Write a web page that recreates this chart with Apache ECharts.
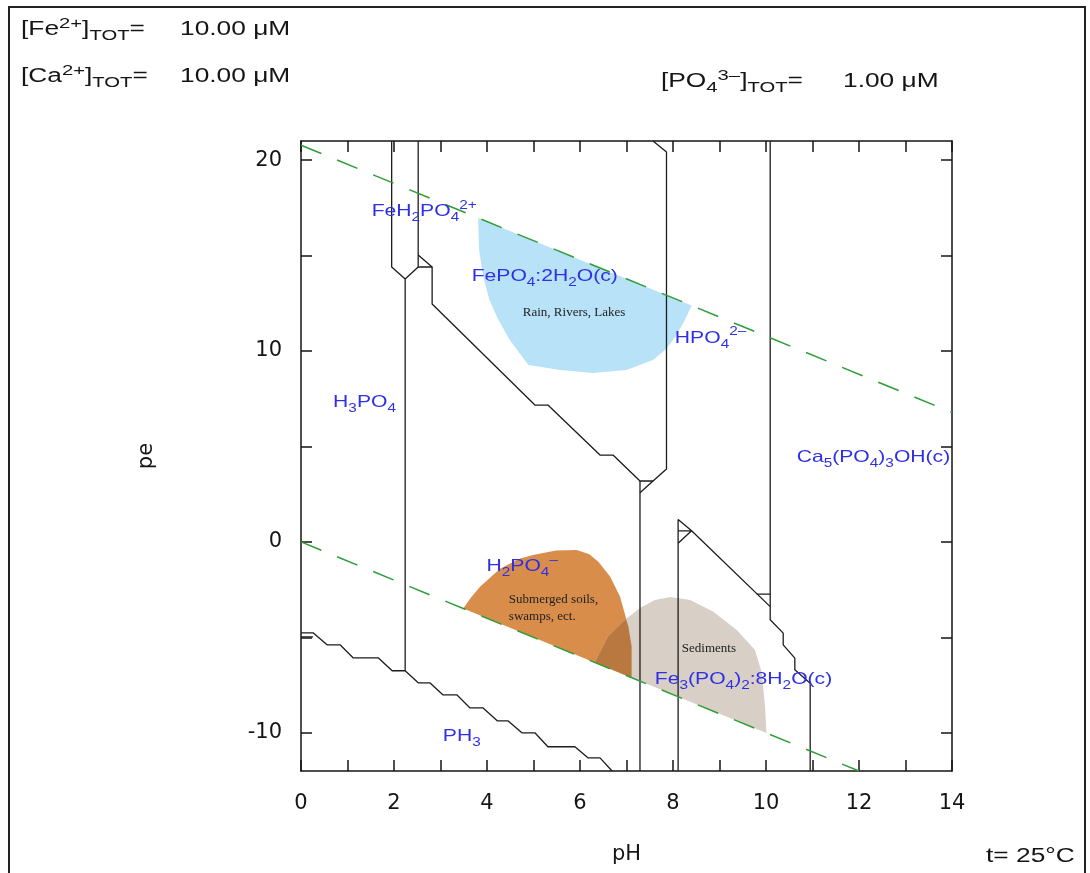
<!DOCTYPE html>
<html>
<head>
<meta charset="utf-8">
<script src="https://cdn.jsdelivr.net/npm/echarts@6/dist/echarts.min.js"></script>
<style>
  html, body { margin: 0; padding: 0; background: #fff; }
  #main { width: 1090px; height: 873px; }
</style>
</head>
<body>
<div id="main"></div>
<script>
// axis ticks / labels
const phTicks = [0, 1, 2, 3, 4, 5, 6, 7, 8, 9, 10, 11, 12, 13, 14];
const phLabels = [0, 2, 4, 6, 8, 10, 12, 14];
const peTicks = [-10, -5, 0, 5, 10, 15, 20];
const peLabels = [-10, 0, 10, 20];

// water stability limits
const waterUpper = [[0, 20.78], [14, 6.78]];
const waterLower = [[0, 0], [12, -12]];

// predominance boundaries (pH, pe)
const pH2Left = [[1.95, 21], [1.95, 14.40], [2.24, 13.77], [2.24, -6.75]];
const pH2Right = [[2.52, 21], [2.52, 14.40], [2.24, 13.77]];
const pH2Notch = [[2.52, 14.40], [2.82, 14.40]];
const fePhosphateEdge = [[2.52, 15.03], [2.82, 14.40], [2.82, 12.46], [5.03, 7.17], [5.31, 7.17],
  [6.43, 4.55], [6.71, 4.55], [7.29, 3.19], [7.57, 3.19], [7.86, 3.82], [7.86, 20.42], [7.57, 21]];
const pH7Line = [[7.29, 3.19], [7.29, -12]];
const pH7Notch = [[7.57, 3.19], [7.29, 2.57]];
const fe3Edge = [[8.11, -12], [8.11, 1.17], [8.40, 0.58], [10.09, -3.39]];
const fe3Notch = [[8.11, 0.58], [8.40, 0.58], [8.11, -0.07]];
const apatiteEdge = [[10.09, 21], [10.09, -4.08], [10.37, -4.78], [10.37, -5.39], [10.62, -6.09],
  [10.62, -6.70], [10.95, -7.40], [10.95, -12]];
const apatiteNotch = [[9.80, -2.74], [10.09, -2.74]];
const phosphineEdge = [[0, -4.76], [0.26, -4.76], [0.56, -5.39], [0.84, -5.39], [1.12, -6.07],
  [1.66, -6.07], [1.96, -6.75], [2.24, -6.75], [2.52, -7.38], [2.77, -7.38], [3.05, -8.01],
  [3.35, -8.01], [3.63, -8.69], [3.91, -8.69], [4.22, -9.37], [4.45, -9.37], [4.75, -10.0],
  [5.03, -10.0], [5.31, -10.73], [5.89, -10.73], [6.17, -11.31], [6.43, -11.31], [6.69, -12]];
const phosphineTick = [[0, -4.97], [0.26, -4.97]];

// shaded environments
const rainRegion = [[3.81, 16.97], [3.83, 15.29], [3.92, 13.9], [4.05, 12.7], [4.23, 11.70],
  [4.49, 10.58], [4.89, 9.27], [5.57, 9.01], [6.28, 8.85], [7.00, 9.01], [7.57, 9.53],
  [7.85, 10.1], [8.05, 10.75], [8.24, 11.55], [8.40, 12.38]];
const soilRegion = [[3.49, -3.49], [3.66, -2.90], [3.85, -2.35], [4.28, -1.40], [4.70, -0.88],
  [4.99, -0.68], [5.48, -0.45], [5.93, -0.42], [6.20, -0.65], [6.40, -1.05], [6.65, -1.82],
  [6.86, -2.86], [7.04, -4.43], [7.11, -5.48], [7.11, -7.11]];
const sedimentRegion = [[6.32, -6.32], [6.60, -4.96], [6.97, -4.08], [7.29, -3.46], [7.61, -3.04],
  [7.94, -2.88], [8.37, -3.04], [8.86, -3.65], [9.37, -4.61], [9.76, -5.65], [9.91, -6.86],
  [9.98, -8.62], [10.01, -10.01]];
const overlapRegion = [[6.32, -6.32], [6.60, -4.96], [6.97, -4.08], [6.99, -4.03], [7.04, -4.43],
  [7.11, -5.48], [7.11, -7.11]];

// labels
const speciesNames = ['FeH_{2}PO_{4}^{2+}', 'FePO_{4}:2H_{2}O(c)', 'HPO_{4}^{2–}', 'H_{3}PO_{4}',
  'Ca_{5}(PO_{4})_{3}OH(c)', 'H_{2}PO_{4}^{–}', 'Fe_{3}(PO_{4})_{2}:8H_{2}O(c)', 'PH_{3}'];
const speciesAt = [[1.52, 17.30], [3.67, 13.93], [8.04, 10.68], [0.69, 7.33], [10.66, 4.40],
  [3.99, -1.29], [7.61, -7.23], [3.05, -10.21]];
const settingNames = ['Rain, Rivers, Lakes', 'Submerged soils,\nswamps, ect.', 'Sediments'];
const settingAt = [[4.77, 12.02], [4.47, -3.46], [8.19, -5.60]];
const headerNames = ['[Fe^{2+}]_{TOT}=', '[Ca^{2+}]_{TOT}=', '[PO_{4}^{3–}]_{TOT}='];
const headerValues = ['10.00 μM', '10.00 μM', '1.00 μM'];

const sansFont = "'Liberation Sans', Arial, sans-serif";
const serifFont = "'Liberation Serif', 'Times New Roman', serif";
const axisFont = "'DejaVu Sans', sans-serif";
const ink = '#151515';
const blue = '#2f2fe6';

let chart = echarts.init(document.getElementById('main'));

function boundary(points) {
  return {
    type: 'line', data: points, symbol: 'none', silent: true, z: 4,
    lineStyle: { color: '#1c1c1c', width: 1.3 }
  };
}
function waterLine(points) {
  return {
    type: 'line', data: points, symbol: 'none', silent: true, z: 5,
    lineStyle: { color: '#2f9d37', width: 1.5, type: [22, 17] }
  };
}
function region(points, color) {
  return {
    type: 'custom', coordinateSystem: 'cartesian2d', silent: true, z: 2,
    data: points,
    renderItem: function (params, api) {
      if (params.dataIndex !== 0) return null;
      return {
        type: 'polygon',
        shape: { points: points.map(p => api.coord(p)) },
        style: { fill: color }
      };
    }
  };
}

function richify(s) {
  let out = '';
  const re = /([_^])\{([^}]*)\}|([^_^]+)/g;
  let m;
  while ((m = re.exec(s))) {
    if (m[3]) out += '{n|' + m[3] + '}';
    else out += '{' + (m[1] === '_' ? 'b' : 'p') + '|' + m[2] + '}';
  }
  return out;
}
function richStyles(size, small, color) {
  return {
    n: { fontSize: size, fontFamily: sansFont, fill: color, color: color, lineHeight: size + 8 },
    b: { fontSize: small, fontFamily: sansFont, fill: color, color: color, verticalAlign: 'bottom', lineHeight: small + 1 },
    p: { fontSize: small, fontFamily: sansFont, fill: color, color: color, verticalAlign: 'top', lineHeight: small + 1 }
  };
}
function richText(str, x, y, size, small, color, sx) {
  return {
    type: 'text', x: x, y: y, scaleX: sx, z: 20, silent: true,
    style: {
      text: richify(str), rich: richStyles(size, small, color), fill: color,
      align: 'left', textAlign: 'left', verticalAlign: 'middle', textVerticalAlign: 'middle'
    }
  };
}

const tickLine = { color: ink, width: 1.5 };
function xAx(pos, labels) {
  return {
    type: 'value', min: 0, max: 14, position: pos,
    axisLine: { show: true, onZero: false, lineStyle: tickLine },
    axisTick: { show: true, inside: true, length: 11, customValues: phTicks, lineStyle: tickLine },
    axisLabel: { show: labels, customValues: phLabels, margin: 22, fontSize: 21, fontFamily: axisFont, color: ink },
    splitLine: { show: false }
  };
}
function yAx(pos, labels) {
  return {
    type: 'value', min: -12, max: 21, position: pos,
    axisLine: { show: true, onZero: false, lineStyle: tickLine },
    axisTick: { show: true, inside: true, length: 11, customValues: peTicks, lineStyle: tickLine },
    axisLabel: { show: labels, customValues: peLabels, margin: 19, fontSize: 21, fontFamily: axisFont, color: ink },
    splitLine: { show: false }
  };
}

const xBottom = xAx('bottom', true);
xBottom.name = 'pH';
xBottom.nameLocation = 'middle';
xBottom.nameGap = 73;
xBottom.nameTextStyle = { fontSize: 21, fontFamily: axisFont, color: ink };
const yLeft = yAx('left', true);
yLeft.name = 'pe';
yLeft.nameLocation = 'middle';
yLeft.nameRotate = 90;
yLeft.nameGap = 144;
yLeft.nameTextStyle = { fontSize: 21, fontFamily: axisFont, color: ink };

chart.setOption({
  animation: false,
  backgroundColor: '#fff',
  grid: { left: 301, right: 138, top: 141, bottom: 102 },
  xAxis: [xBottom, xAx('top', false)],
  yAxis: [yLeft, yAx('right', false)],
  series: [
    region(rainRegion, '#b8e2f8'),
    region(soilRegion, '#d98d4b'),
    region(sedimentRegion, '#d8cfc6'),
    region(overlapRegion, '#b8783f'),
    boundary(pH2Left),
    boundary(pH2Right),
    boundary(pH2Notch),
    boundary(fePhosphateEdge),
    boundary(pH7Line),
    boundary(pH7Notch),
    boundary(fe3Edge),
    boundary(fe3Notch),
    boundary(apatiteEdge),
    boundary(apatiteNotch),
    boundary(phosphineEdge),
    boundary(phosphineTick),
    waterLine(waterUpper),
    waterLine(waterLower)
  ]
});

// texts: species and settings placed through the grid's coordinate conversion
const graphics = [];
graphics.push({
  type: 'rect', silent: true, z: 1,
  shape: { x: 9, y: 7, width: 1076, height: 880 },
  style: { fill: 'none', stroke: '#222', lineWidth: 2 }
});
speciesNames.forEach(function (name, i) {
  const p = chart.convertToPixel({ gridIndex: 0 }, speciesAt[i]);
  graphics.push(richText(name, p[0], p[1], 16.5, 12, blue, 1.28));
});
settingNames.forEach(function (name, i) {
  const p = chart.convertToPixel({ gridIndex: 0 }, settingAt[i]);
  graphics.push({
    type: 'text', x: p[0], y: p[1], z: 20, silent: true,
    style: {
      text: name, font: '13px ' + serifFont, fill: '#222', lineHeight: 17.5,
      align: 'left', textAlign: 'left', verticalAlign: 'middle', textVerticalAlign: 'middle'
    }
  });
});
const headerX = [21, 21, 661];
const headerY = [30, 77, 82];
const valueX = [180, 180, 843];
headerNames.forEach(function (name, i) {
  graphics.push(richText(name, headerX[i], headerY[i], 19.5, 15, ink, 1.35));
  graphics.push(richText(headerValues[i], valueX[i], headerY[i], 19.5, 15, ink, 1.35));
});
graphics.push(richText('t= 25°C', 986, 857, 19.5, 14, ink, 1.35));

chart.setOption({ graphic: graphics });
</script>
</body>
</html>
